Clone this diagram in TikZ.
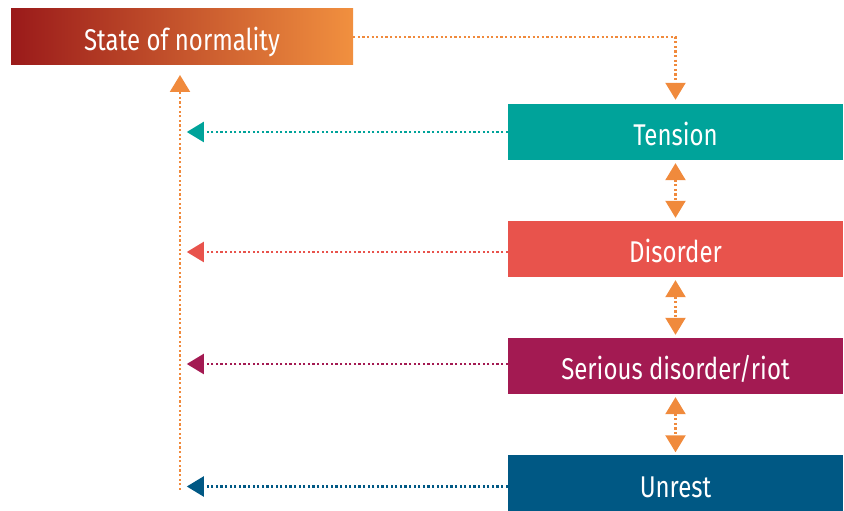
\documentclass[tikz,border=0pt]{standalone}
\usepackage{fontspec}
\setmainfont{Fira Sans}[FakeStretch=0.8]
\usepackage{tikz}
\usepackage{xcolor}
\usetikzlibrary{arrows.meta, positioning}

\definecolor{normalleft}{HTML}{9A1A1A}
\definecolor{normalright}{HTML}{F1903F}
\definecolor{tensioncol}{HTML}{00A39A}
\definecolor{disordercol}{HTML}{E8534C}
\definecolor{riotcol}{HTML}{A31A52}
\definecolor{unrestcol}{HTML}{005884}
\definecolor{linkcol}{HTML}{F08A3C}

\tikzset{
    stage/.style={rectangle, minimum width=335pt, minimum height=56pt, inner sep=0pt,
        text height=28pt, text depth=0pt,
        text=white, font=\fontsize{30}{33}\selectfont},
    dots/.style={line width=2.2pt, dash pattern=on 2.2pt off 2.4pt},
    tip/.style={-{Triangle[length=17pt, width=20pt]}},
    bothtips/.style={{Triangle[length=17pt, width=20pt]}-{Triangle[length=17pt, width=20pt]}}
}

\begin{document}
\begin{tikzpicture}[x=1pt, y=1pt]
        \useasboundingbox (0,0) rectangle (844,511);

        \node[stage, minimum width=342pt, left color=normalleft, right color=normalright] (normal) at (182, 474) {State of normality};
        \node[stage, fill=tensioncol] (tension) at (675.5, 379) {Tension};
        \node[stage, fill=disordercol] (disorder) at (675.5, 262) {Disorder};
        \node[stage, fill=riotcol] (riot) at (675.5, 145) {Serious disorder/riot};
        \node[stage, fill=unrestcol] (unrest) at (675.5, 27.5) {Unrest};

        \coordinate (spinebot) at (180, 21);
        \coordinate (spinetop) at (180, 436);

        % loop back up to normality
        \draw[dots, tip, linkcol] (spinebot) -- (spinetop);
        \draw[dots, tip, linkcol] (normal.east) -| ([yshift=4pt]tension.north);

        \draw[dots, tip, tensioncol] (tension.west) -- ++(-321, 0);
        \draw[dots, tip, disordercol] ([yshift=-3pt]disorder.west) -- ++(-321, 0);
        \draw[dots, tip, riotcol] ([yshift=2pt]riot.west) -- ++(-321, 0);
        \draw[dots, tip, unrestcol] ([yshift=-3pt]unrest.west) -- ++(-321, 0);

        \draw[dots, bothtips, linkcol] ([yshift=-3pt]tension.south) -- ([yshift=3pt]disorder.north);
        \draw[dots, bothtips, linkcol] ([yshift=-3pt]disorder.south) -- ([yshift=3pt]riot.north);
        \draw[dots, bothtips, linkcol] ([yshift=-3pt]riot.south) -- ([yshift=3pt]unrest.north);
    \end{tikzpicture}
\end{document}
